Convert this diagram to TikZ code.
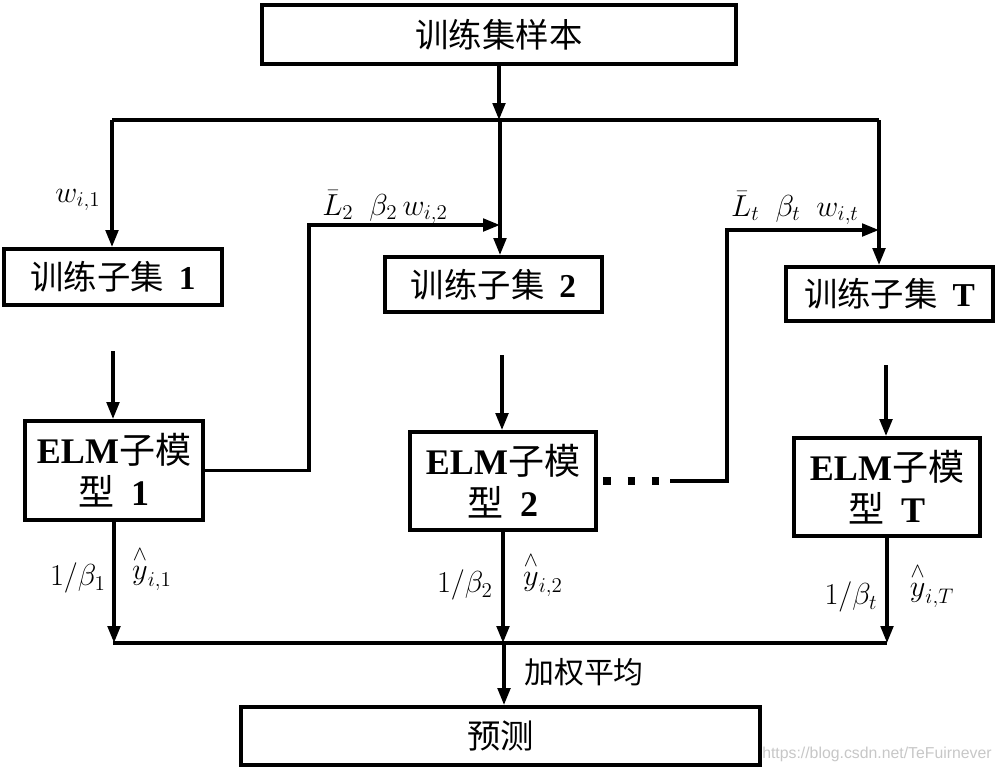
\documentclass[tikz,border=0pt]{standalone}
\usepackage{amsmath}
\usepackage{fontspec}
\setmainfont{Liberation Serif}
\newfontfamily\cjk{Noto Sans CJK SC}
\newfontfamily\wmfont{Liberation Sans}
\usetikzlibrary{arrows.meta}

\begin{document}
\begin{tikzpicture}[x=0.02cm, y=-0.02cm,
    box/.style={draw, line width=2.2pt, inner sep=0pt, align=center,
      font=\fontsize{19}{23}\selectfont},
    elmbox/.style={box, font=\fontsize{20.5}{24}\selectfont},
    arr/.style={line width=2pt, -{Triangle[length=0.34cm, width=0.25cm]}},
    bus/.style={line width=2pt},
    dotline/.style={line width=0.15cm, dash pattern=on 0.15cm off 0.34cm},
    lbl/.style={font=\fontsize{18}{20}\selectfont, inner sep=0pt}]
  \useasboundingbox (0,0) rectangle (1000,772);

  % boxes
  \node[box, minimum width=9.48cm, minimum height=1.18cm] (train) at (499,34.5) {\cjk 训练集样本};
  \node[box, minimum width=4.36cm, minimum height=1.12cm] (sub1) at (113,277) {{\cjk 训练子集}\hspace{0.45em}\textbf{1}};
  \node[box, minimum width=4.34cm, minimum height=1.10cm] (sub2) at (493.5,284.5) {{\cjk 训练子集}\hspace{0.45em}\textbf{2}};
  \node[box, minimum width=4.14cm, minimum height=1.08cm] (subT) at (889.5,294) {{\cjk 训练子集}\hspace{0.45em}\textbf{T}};
  \node[elmbox, minimum width=3.56cm, minimum height=1.98cm] (elm1) at (114,470.5) {\textbf{ELM}{\cjk 子模}\\{\cjk 型}\hspace{0.45em}\textbf{1}};
  \node[elmbox, minimum width=3.72cm, minimum height=1.96cm] (elm2) at (503,481) {\textbf{ELM}{\cjk 子模}\\{\cjk 型}\hspace{0.45em}\textbf{2}};
  \node[elmbox, minimum width=3.72cm, minimum height=1.96cm] (elmT) at (887,487) {\textbf{ELM}{\cjk 子模}\\{\cjk 型}\hspace{0.45em}\textbf{T}};
  \node[box, minimum width=10.38cm, minimum height=1.16cm] (pred) at (500.5,736) {\cjk 预测};

  % points on the lines
  \coordinate (split) at (500,120);
  \coordinate (busL) at (112,120);
  \coordinate (busR) at (879,120);
  \coordinate (in1) at (113,351);
  \coordinate (in2) at (502,355);
  \coordinate (inT) at (886,365);
  \coordinate (fb1) at (309,225);
  \coordinate (fbT) at (727,230);
  \coordinate (dotS) at (603,481);
  \coordinate (dotE) at (660,481);
  \coordinate (lineT) at (670,481);
  \coordinate (joinL) at (113,643);
  \coordinate (join) at (504,643);
  \coordinate (joinR) at (887,643);

  % splitting the samples
  \draw[arr] (train.south) -- (train.south |- split);
  \draw[bus] (busL) -- (busR);
  \draw[arr] (busL) -- (busL |- sub1.north);
  \draw[arr] (split) -- (split |- sub2.north);
  \draw[arr] (busR) -- (busR |- subT.north);

  % into the sub models
  \draw[arr] (in1) -- (in1 |- elm1.north);
  \draw[arr] (in2) -- (in2 |- elm2.north);
  \draw[arr] (inT) -- (inT |- elmT.north);

  % weights passed on
  \draw[arr] (elm1.east) -| (fb1) -- (fb1 -| split);
  \draw[dotline] (dotS) -- (dotE);
  \draw[arr] (lineT) -| (fbT) -- (fbT -| busR);

  % weighted average
  \draw[arr] (elm1.south) -- (elm1.south |- joinL);
  \draw[arr] (elm2.south) -- (elm2.south |- join);
  \draw[arr] (elmT.south) -- (elmT.south |- joinR);
  \draw[bus] (joinL) -- (joinR);
  \draw[arr] (join) -- (join |- pred.north);

  % labels
  \node[lbl] (lw1) at (78,200) {$w_{i,1}$};
  \node[lbl] (lw2) at (385,207) {$\bar{L}_2\ \ \beta_2\, w_{i,2}$};
  \node[lbl] (lwT) at (795,208) {$\bar{L}_t\ \ \beta_t\ \ w_{i,t}$};
  \node[lbl] (lb1) at (78,578) {$1/\beta_1$};
  \node[lbl] (ly1) at (152,568) {$\overset{\wedge}{y}_{i,1}$};
  \node[lbl] (lb2) at (465,585) {$1/\beta_2$};
  \node[lbl] (ly2) at (543,574) {$\overset{\wedge}{y}_{i,2}$};
  \node[lbl] (lbT) at (851,597) {$1/\beta_t$};
  \node[lbl] (lyT) at (932,585) {$\overset{\wedge}{y}_{i,T}$};
  \node[lbl, font=\fontsize{17}{20}\selectfont\cjk, anchor=west] (avg) at (524,672) {加权平均};
  \node[inner sep=0pt, text=black!22, font=\fontsize{9}{10}\selectfont\wmfont, anchor=east] (wm) at (992,754) {https://blog.csdn.net/TeFuirnever};
\end{tikzpicture}
\end{document}
